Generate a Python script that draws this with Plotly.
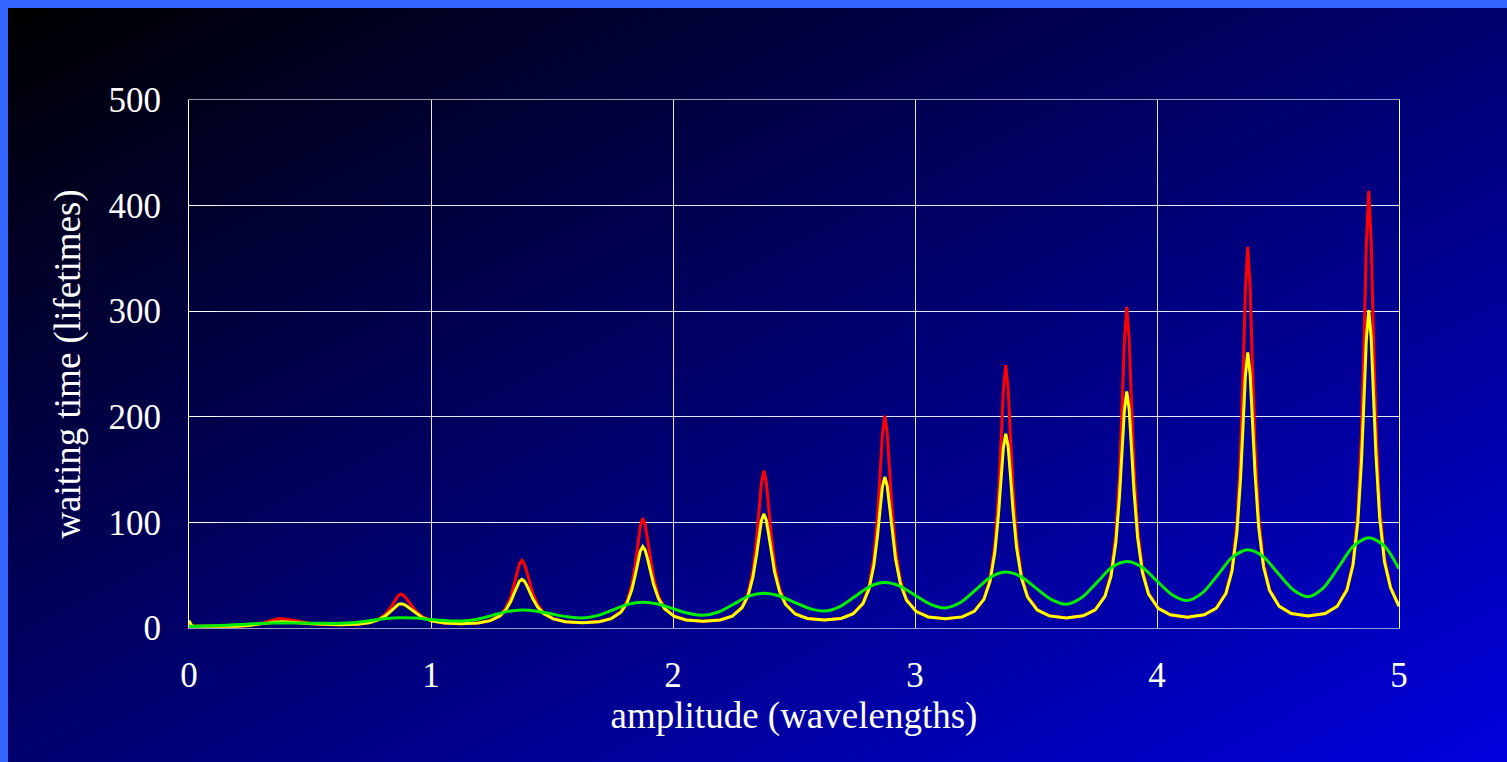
import base64
import plotly.graph_objects as go

# Amplitude samples (wavelengths) for the resonant curves: coarse near the
# minima, dense around each resonance so the sharp peaks are resolved.
amp_fine = [
    0.0, 0.012, 0.06, 0.125,
    0.195, 0.245, 0.285, 0.31, 0.33, 0.345, 0.355, 0.365, 0.375, 0.385, 0.395, 0.405, 0.42, 0.44, 0.465, 0.505, 0.555, 0.625,
    0.695, 0.745, 0.785, 0.81, 0.83, 0.845, 0.855, 0.865, 0.875, 0.885, 0.895, 0.905, 0.92, 0.94, 0.965, 1.005, 1.055, 1.125,
    1.195, 1.245, 1.285, 1.31, 1.33, 1.345, 1.355, 1.365, 1.375, 1.385, 1.395, 1.405, 1.42, 1.44, 1.465, 1.505, 1.555, 1.625,
    1.695, 1.745, 1.785, 1.81, 1.83, 1.845, 1.855, 1.865, 1.875, 1.885, 1.895, 1.905, 1.92, 1.94, 1.965, 2.005, 2.055, 2.125,
    2.195, 2.245, 2.285, 2.31, 2.33, 2.345, 2.355, 2.365, 2.375, 2.385, 2.395, 2.405, 2.42, 2.44, 2.465, 2.505, 2.555, 2.625,
    2.695, 2.745, 2.785, 2.81, 2.83, 2.845, 2.855, 2.865, 2.875, 2.885, 2.895, 2.905, 2.92, 2.94, 2.965, 3.005, 3.055, 3.125,
    3.195, 3.245, 3.285, 3.31, 3.33, 3.345, 3.355, 3.365, 3.375, 3.385, 3.395, 3.405, 3.42, 3.44, 3.465, 3.505, 3.555, 3.625,
    3.695, 3.745, 3.785, 3.81, 3.83, 3.845, 3.855, 3.865, 3.875, 3.885, 3.895, 3.905, 3.92, 3.94, 3.965, 4.005, 4.055, 4.125,
    4.195, 4.245, 4.285, 4.31, 4.33, 4.345, 4.355, 4.365, 4.375, 4.385, 4.395, 4.405, 4.42, 4.44, 4.465, 4.505, 4.555, 4.625,
    4.695, 4.745, 4.785, 4.81, 4.83, 4.845, 4.855, 4.865, 4.875, 4.885, 4.895, 4.905, 4.92, 4.94, 4.965, 5.0,
]

# Waiting time (lifetimes), red curve
wait_red = [
    5.5, 2.0, 1.6, 1.5,
    1.77, 2.46, 3.70, 5.03, 6.48, 7.66, 8.34, 8.83, 9.0, 8.93, 8.73, 8.41, 7.79, 6.84, 5.72, 4.36, 3.41, 3.0,
    3.59, 5.21, 8.48, 12.67, 18.26, 23.89, 27.78, 30.83, 32.0, 31.14, 28.83, 25.69, 20.71, 15.21, 10.63, 6.78, 4.75, 4.0,
    4.82, 7.13, 12.06, 19.01, 29.53, 41.92, 51.80, 60.43, 64.0, 61.15, 53.99, 45.25, 33.36, 22.37, 14.59, 8.80, 6.00, 5.0,
    6.04, 9.03, 15.56, 25.22, 40.93, 61.35, 79.33, 96.47, 104.0, 98.01, 83.63, 67.33, 47.12, 30.18, 19.07, 11.25, 7.59, 6.3,
    7.62, 11.43, 19.86, 32.58, 53.93, 82.99, 109.90, 136.78, 149.0, 138.68, 114.94, 89.63, 60.36, 37.48, 23.22, 13.51, 9.06, 7.5,
    9.09, 13.66, 23.91, 39.65, 66.82, 105.46, 143.03, 182.44, 201.0, 184.89, 149.20, 113.17, 73.89, 44.80, 27.36, 15.77, 10.53, 8.7,
    10.54, 15.88, 27.88, 46.48, 79.05, 126.41, 173.65, 224.54, 249.0, 226.48, 178.37, 132.08, 84.04, 50.04, 30.22, 17.30, 11.51, 9.5,
    11.52, 17.40, 30.71, 51.62, 89.07, 145.56, 204.44, 270.89, 304.0, 273.27, 209.96, 151.90, 94.42, 55.30, 33.09, 18.82, 12.49, 10.3,
    12.50, 18.91, 33.50, 56.67, 98.90, 164.42, 235.20, 318.27, 361.0, 321.74, 242.91, 173.01, 105.90, 61.38, 36.52, 20.69, 13.71, 11.3,
    13.72, 20.77, 36.86, 62.53, 109.70, 183.90, 265.42, 362.99, 414.0, 365.70, 271.26, 190.23, 114.76, 65.88, 38.99, 21.0,
]

# Waiting time (lifetimes), yellow curve
wait_yellow = [
    7.0, 2.0, 1.6, 1.5,
    1.74, 2.31, 3.22, 4.07, 4.86, 5.43, 5.73, 5.93, 6.0, 5.98, 5.91, 5.80, 5.57, 5.18, 4.66, 3.92, 3.30, 3.0,
    3.56, 5.06, 7.89, 11.21, 15.14, 18.64, 20.82, 22.41, 23.0, 22.58, 21.40, 19.71, 16.79, 13.15, 9.73, 6.53, 4.70, 4.0,
    4.79, 6.99, 11.46, 17.32, 25.31, 33.61, 39.49, 44.17, 46.0, 44.56, 40.75, 35.72, 28.08, 20.06, 13.71, 8.59, 5.96, 5.0,
    6.02, 8.90, 15.00, 23.54, 36.31, 51.14, 62.80, 72.86, 77.0, 73.74, 65.46, 55.23, 41.10, 27.80, 18.24, 11.06, 7.56, 6.3,
    7.60, 11.28, 19.17, 30.45, 47.86, 68.93, 86.16, 101.54, 108.0, 102.58, 89.22, 73.44, 52.86, 34.69, 22.28, 13.30, 9.02, 7.5,
    9.06, 13.49, 23.11, 37.15, 59.43, 87.49, 111.39, 133.49, 143.0, 134.80, 115.09, 92.74, 64.95, 41.63, 26.33, 15.54, 10.49, 8.7,
    10.52, 15.72, 27.12, 44.04, 71.64, 107.76, 139.76, 170.46, 184.0, 171.57, 142.80, 111.86, 75.73, 47.21, 29.33, 17.10, 11.47, 9.5,
    11.50, 17.23, 29.94, 49.11, 81.23, 124.94, 165.36, 205.69, 224.0, 207.06, 168.94, 129.59, 85.66, 52.43, 32.20, 18.63, 12.45, 10.3,
    12.47, 18.73, 32.67, 53.94, 90.17, 140.73, 188.81, 238.15, 261.0, 240.08, 193.76, 146.97, 95.96, 58.19, 35.54, 20.48, 13.67, 11.3,
    13.69, 20.58, 36.00, 59.68, 100.48, 158.41, 214.59, 273.37, 301.0, 274.90, 218.38, 163.09, 104.71, 62.73, 38.03, 20.5,
]

# Broad green curve on a regular grid
amp_coarse = [
    0.0, 0.0625, 0.125, 0.1875, 0.25, 0.3125, 0.375, 0.4375,
    0.5, 0.5625, 0.625, 0.6875, 0.75, 0.8125, 0.875, 0.9375,
    1.0, 1.0625, 1.125, 1.1875, 1.25, 1.3125, 1.375, 1.4375,
    1.5, 1.5625, 1.625, 1.6875, 1.75, 1.8125, 1.875, 1.9375,
    2.0, 2.0625, 2.125, 2.1875, 2.25, 2.3125, 2.375, 2.4375,
    2.5, 2.5625, 2.625, 2.6875, 2.75, 2.8125, 2.875, 2.9375,
    3.0, 3.0625, 3.125, 3.1875, 3.25, 3.3125, 3.375, 3.4375,
    3.5, 3.5625, 3.625, 3.6875, 3.75, 3.8125, 3.875, 3.9375,
    4.0, 4.0625, 4.125, 4.1875, 4.25, 4.3125, 4.375, 4.4375,
    4.5, 4.5625, 4.625, 4.6875, 4.75, 4.8125, 4.875, 4.9375,
    5.0,
]
wait_green = [
    1.5, 1.8, 2.3, 3.0, 3.8, 4.5, 4.8, 4.8,
    4.6, 4.4, 4.4, 5.2, 7.0, 9.0, 9.8, 9.4,
    8.0, 7.0, 6.6, 8.1, 11.75, 15.5, 17.0, 15.95,
    13.25, 10.6, 9.5, 11.75, 17.0, 22.4, 24.5, 22.75,
    18.25, 13.9, 12.0, 15.15, 22.5, 30.1, 33.0, 30.6,
    24.5, 18.55, 16.0, 20.05, 29.5, 39.2, 43.0, 39.6,
    31.0, 22.6, 19.0, 24.1, 36.0, 48.2, 53.0, 48.7,
    37.75, 27.1, 22.5, 28.6, 42.75, 57.3, 63.0, 57.8,
    44.5, 31.55, 26.0, 33.2, 50.0, 67.3, 74.0, 67.8,
    51.85, 36.3, 29.7, 38.1, 57.6, 77.7, 85.5, 78.2,
    56.0,
]

x_ticks = [0, 1, 2, 3, 4, 5]
y_ticks = [0, 100, 200, 300, 400, 500]

W, H = 1507, 762
ML, MR, MT, MB = 189, 108, 100, 134
PW, PH = W - ML - MR, H - MT - MB
EDGE = 8  # width of the light frame on the top and left

font_family = "Liberation Serif, DejaVu Serif, serif"

# diagonal black -> blue backdrop as an inline SVG
svg = (
    '<svg xmlns="http://www.w3.org/2000/svg" width="1499" height="754" '
    'viewBox="0 0 1499 754" preserveAspectRatio="none">'
    '<defs><linearGradient id="g" x1="0" y1="0" x2="1" y2="1">'
    '<stop offset="0" stop-color="#000000"/>'
    '<stop offset="1" stop-color="#0000dd"/>'
    '</linearGradient></defs>'
    '<rect width="1499" height="754" fill="url(#g)"/></svg>'
)
bg_src = "data:image/svg+xml;base64," + base64.b64encode(svg.encode()).decode()

fig = go.Figure()
fig.add_trace(go.Scatter(x=amp_fine, y=wait_red, mode="lines",
                         line=dict(color="#ff0000", width=3), hoverinfo="skip"))
fig.add_trace(go.Scatter(x=amp_fine, y=wait_yellow, mode="lines",
                         line=dict(color="#ffff00", width=3), hoverinfo="skip"))
fig.add_trace(go.Scatter(x=amp_coarse, y=wait_green, mode="lines",
                         line=dict(color="#00ee00", width=3, shape="spline", smoothing=0.8),
                         hoverinfo="skip"))

fig.add_layout_image(dict(
    source=bg_src, xref="paper", yref="paper",
    x=(EDGE - ML) / PW, y=(H - MB - EDGE) / PH,
    sizex=(W - EDGE) / PW, sizey=(H - EDGE) / PH,
    xanchor="left", yanchor="top", sizing="stretch", layer="below",
))

fig.update_layout(
    width=W, height=H,
    margin=dict(l=ML, r=MR, t=MT, b=MB, pad=0),
    paper_bgcolor="#3366ff",
    plot_bgcolor="rgba(0,0,0,0)",
    showlegend=False,
    font=dict(family=font_family, size=35, color="white"),
    xaxis=dict(
        range=[0, 5], tickvals=x_ticks, ticktext=[str(v) for v in x_ticks],
        showgrid=True, gridcolor="rgba(255,255,255,0.9)", gridwidth=1,
        zeroline=False, showline=True, mirror=True,
        linecolor="rgba(255,255,255,0.6)", linewidth=1,
        ticks="", ticklabelstandoff=16, tickfont=dict(size=35, color="white"),
        title=dict(text="amplitude (wavelengths)", font=dict(size=37, color="white"), standoff=5),
    ),
    yaxis=dict(
        range=[0, 500], tickvals=y_ticks, ticktext=[str(v) for v in y_ticks],
        showgrid=True, gridcolor="rgba(255,255,255,0.9)", gridwidth=1,
        zeroline=False, showline=True, mirror=True,
        linecolor="white", linewidth=1,
        ticks="inside", ticklen=28, tickcolor="white", tickwidth=1,
        ticklabelstandoff=20, tickfont=dict(size=35, color="white"),
        title=dict(text="waiting time (lifetimes)", font=dict(size=37, color="white"), standoff=16),
    ),
)

fig.write_html("out.html")
